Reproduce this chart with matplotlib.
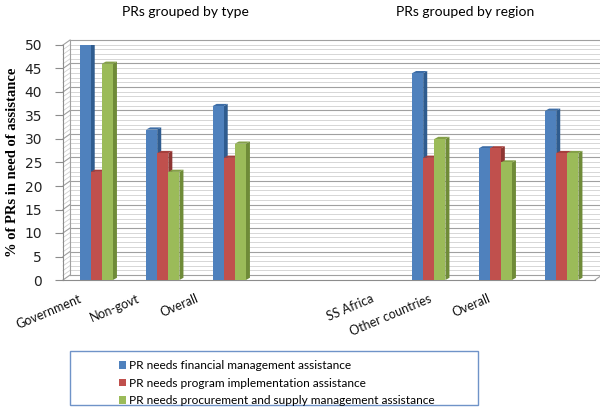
import matplotlib
matplotlib.use("Agg")
import matplotlib.pyplot as plt
from matplotlib.patches import Polygon, Rectangle, Patch
from matplotlib.transforms import offset_copy

categories = ["Government", "Non-govt", "Overall", "", "", "SS Africa", "Other countries", "Overall"]
financial = [50, 32, 37, None, None, 44, 28, 36]
program = [23, 27, 26, None, None, 26, 28, 27]
procurement = [46, 23, 29, None, None, 30, 25, 27]
series_names = ["PR needs financial management assistance",
                "PR needs program implementation assistance",
                "PR needs procurement and supply management assistance"]
group_titles = ["PRs grouped by type", "PRs grouped by region"]
yticks = list(range(0, 51, 5))

face = ["#4F81BD", "#C0504D", "#9BBB59"]
side = ["#2F5C8F", "#8E3532", "#6F8B38"]
top = ["#3D6DA6", "#A53F3C", "#84A048"]

fig = plt.figure(figsize=(6.0, 4.11), dpi=100)
ax = fig.add_axes([63/600, 1-280/411, 532/600, 235/411])
ax.set_xlim(-0.5, 7.5)
ax.set_ylim(0, 50)

# back wall grid (offset to suggest 3D)
back = offset_copy(ax.transData, fig=fig, x=7, y=5, units='dots')
for v in range(0, 51):
    c = "#a0a0a0" if v % 5 == 0 else "#d0d0d0"
    lw = 0.8 if v % 5 == 0 else 0.6
    ax.plot([-0.5, 7.5], [v, v], transform=back, color=c, lw=lw, zorder=0.5, clip_on=False)
    ax.plot([-0.5, -0.5 + 7/66], [v, v + 5*50/235], color=c, lw=lw, zorder=0.5, clip_on=False)
ax.plot([7.5, 7.5 + 7/66], [0, 5*50/235], color="#a0a0a0", lw=0.8, clip_on=False)
ax.plot([-0.5, -0.5], [0, 50], transform=back, color="#a0a0a0", lw=0.8, clip_on=False)
ax.plot([7.5, 7.5], [0, 50], transform=back, color="#a0a0a0", lw=0.8, clip_on=False)

# bars with 3D faces
w = 0.167
dx = 4/66
dy = 2.2*50/235
z = 2
for i in range(len(categories)):
    for s, vals in enumerate([financial, program, procurement]):
        h = vals[i]
        if h is None:
            continue
        xc = i + (s - 1) * w
        x0, x1 = xc - w/2, xc + w/2
        ax.add_patch(Polygon([(x1, 0), (x1 + dx, dy), (x1 + dx, h + dy), (x1, h)],
                             closed=True, facecolor=side[s], edgecolor="none", zorder=z))
        ax.add_patch(Polygon([(x0, h), (x0 + dx, h + dy), (x1 + dx, h + dy), (x1, h)],
                             closed=True, facecolor=top[s], edgecolor="none", zorder=z))
        ax.bar(xc, h, width=w, color=face[s], edgecolor="none", zorder=z + 0.5)
        z += 1

for sp in ["top", "right"]:
    ax.spines[sp].set_visible(False)
ax.spines["left"].set_color("#8c8c8c")
ax.spines["bottom"].set_color("#8c8c8c")
ax.spines["left"].set_zorder(0.6)
ax.set_yticks(yticks)
ax.set_yticklabels([str(t) for t in yticks], fontsize=10, family="DejaVu Sans", color="#222222")
ax.tick_params(axis="y", length=6, color="#8c8c8c", pad=9)
ax.set_xticks([])

# category labels
for i, lab in enumerate(categories):
    if not lab:
        continue
    xl = i * 58/66 - 0.27
    ax.text(xl, -2.6, lab, rotation=23, rotation_mode="anchor", ha="right", va="top",
            fontsize=9, family="Lato", color="#111111")

ax.set_ylabel("% of PRs in need of assistance", family="Liberation Serif", fontweight="bold",
              fontsize=10.5, labelpad=4)

fig.text(185/600, 1-12/411, group_titles[0], ha="center", va="center", fontsize=10, family="Lato")
fig.text(465/600, 1-12/411, group_titles[1], ha="center", va="center", fontsize=10, family="Lato")

# legend box
fig.patches.append(Rectangle((70/600, 1-405/411), 408/600, 54/411, transform=fig.transFigure,
                             facecolor="white", edgecolor="#6F93C8", lw=1.0))
handles = [Patch(facecolor=face[k], edgecolor="none") for k in range(3)]
fig.legend(handles, series_names, loc="upper left", bbox_to_anchor=(112/600, 1-353/411),
           frameon=False, prop={"family": "Lato", "size": 8.6},
           handlelength=0.55, handleheight=0.55, handletextpad=0.3, labelspacing=0.55,
           borderpad=0.1)

fig.savefig("out.png", dpi=100)
